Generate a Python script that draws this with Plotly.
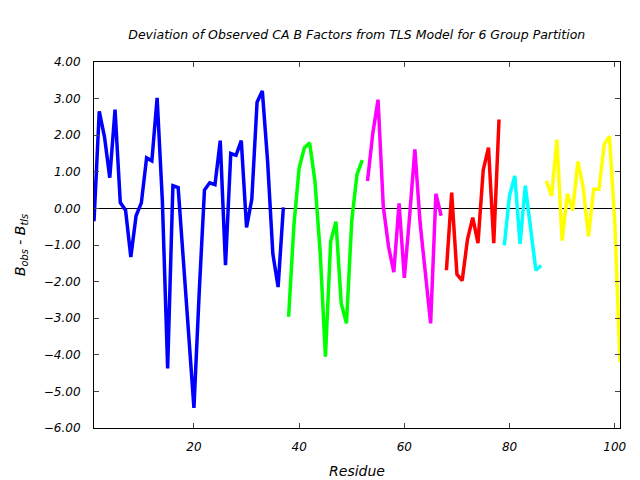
import plotly.graph_objects as go

# Residue numbers per TLS group
res_g1 = list(range(1, 38))
res_g2 = list(range(38, 53))
res_g3 = list(range(53, 68))
res_g4 = list(range(68, 79))
res_g5 = list(range(79, 87))
res_g6 = list(range(87, 102))

# B_obs - B_tls per residue
dev_g1 = [-0.35, 2.65, 1.95, 0.84, 2.7, 0.16, -0.05, -1.33, -0.2, 0.15,
          1.38, 1.3, 3.02, 0.2, -4.37, 0.62, 0.57, -1.4, -3.4, -5.45,
          -2.3, 0.5, 0.7, 0.65, 1.85, -1.55, 1.5, 1.45, 1.85, -0.52,
          0.25, 2.9, 3.21, 1.3, -1.24, -2.15, 0.03]
dev_g2 = [-2.96, -0.47, 1.1, 1.66, 1.79, 0.75, -1.2, -4.05, -0.9, -0.36,
          -2.6, -3.14, -0.34, 0.93, 1.32]
dev_g3 = [0.75, 2.05, 2.97, 0.05, -1.05, -1.74, 0.14, -1.9, -0.22, 1.61,
          -0.4, -1.8, -3.14, 0.4, -0.2]
dev_g4 = [-1.69, 0.43, -1.8, -1.97, -0.85, -0.25, -0.95, 1.05, 1.66, -0.95, 2.43]
dev_g5 = [-1.01, 0.35, 0.89, -0.97, 0.62, -0.61, -1.69, -1.56]
dev_g6 = [0.75, 0.34, 1.88, -0.88, 0.4, -0.06, 1.28, 0.58, -0.76, 0.52,
          0.52, 1.75, 1.97, -0.34, -4.2]

group_colors = ["#0000ff", "#00ff00", "#ff00ff", "#ff0000", "#00ffff", "#ffff00"]

y_ticks = [4, 3, 2, 1, 0, -1, -2, -3, -4, -5, -6]
x_ticks = [20, 40, 60, 80, 100]

groups = [(res_g1, dev_g1), (res_g2, dev_g2), (res_g3, dev_g3),
          (res_g4, dev_g4), (res_g5, dev_g5), (res_g6, dev_g6)]

fig = go.Figure()
for (xs, ys), col in zip(groups, group_colors):
    fig.add_trace(go.Scatter(x=xs, y=ys, mode="lines",
                             line=dict(color=col, width=3.5),
                             showlegend=False, hoverinfo="x+y"))

font = dict(family="DejaVu Sans", size=12, color="black", style="italic")

fig.update_layout(
    width=640, height=480,
    margin=dict(l=86, r=28, t=54, b=58),
    paper_bgcolor="white", plot_bgcolor="white",
    font=font,
    title=dict(text="Deviation of Observed CA B Factors from TLS Model for 6 Group Partition",
               x=0.545, xanchor="center", y=1 - 27 / 480, yanchor="middle",
               font=dict(family="DejaVu Sans", size=12.5, color="black", style="italic")),
)
fig.update_xaxes(
    range=[1, 101], tickvals=x_ticks, ticks="inside", ticklen=5,
    showline=True, linecolor="black", linewidth=1, mirror="ticks",
    showgrid=False, zeroline=False, ticklabelstandoff=8,
    title=dict(text="Residue", standoff=12),
)
fig.update_yaxes(
    range=[-6, 4], tickvals=y_ticks, tickformat=".2f", ticks="inside", ticklen=5,
    showline=True, linecolor="black", linewidth=1, mirror="ticks",
    showgrid=False, zeroline=True, zerolinecolor="black", zerolinewidth=1,
    ticklabelstandoff=10,
    title=dict(text="<i>B</i><sub>obs</sub> - <i>B</i><sub>tls</sub>", standoff=14),
)

fig.write_html("out.html")
